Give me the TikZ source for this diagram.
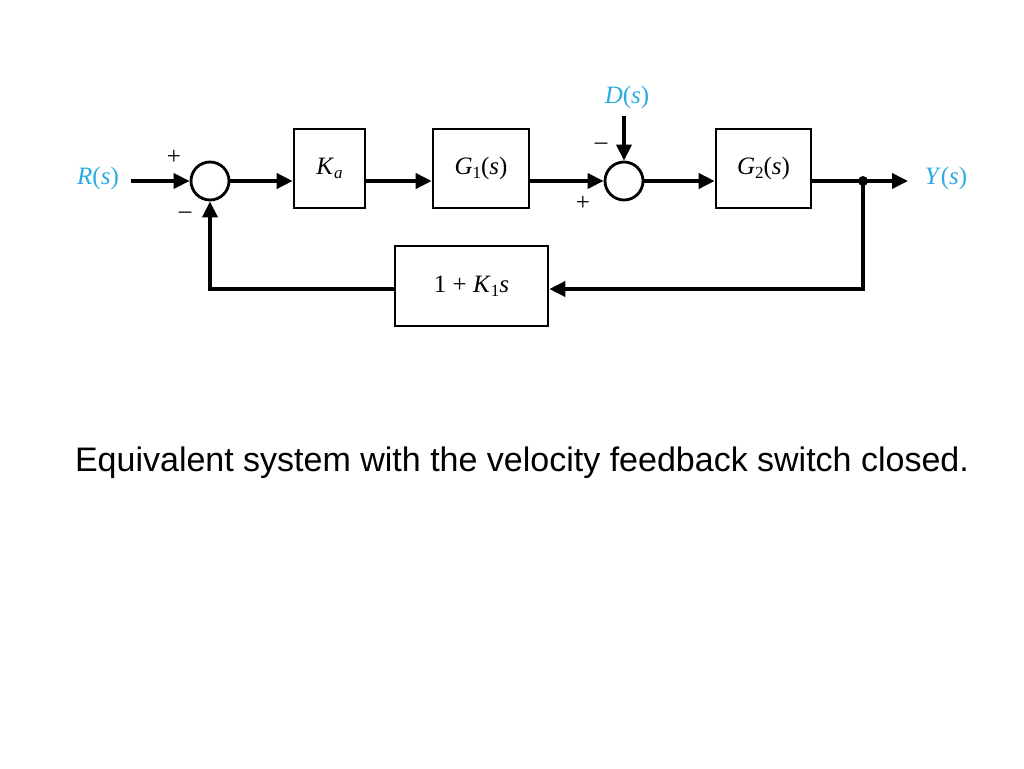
\documentclass[tikz,border=0pt]{standalone}
\usepackage{fontspec}
\setmainfont{Liberation Serif}
\newfontfamily\capfont{Liberation Sans}
\usetikzlibrary{arrows.meta}
\definecolor{sigblue}{RGB}{41,171,226}
\newcommand{\iv}[1]{\textit{#1}}
\newcommand{\sbs}[1]{\raisebox{-0.35ex}{\fontsize{17}{17}\selectfont #1}}
\begin{document}
\begin{tikzpicture}[x=1pt,y=-1pt,
  every node/.style={font=\fontsize{25}{30}\selectfont},
  blk/.style={draw,line width=2.6pt,inner sep=0pt},
  sumc/.style={draw,circle,line width=2.8pt,minimum size=38pt,inner sep=0pt},
  sig/.style={line width=3.6pt,-{Triangle[length=16pt,width=15pt]}},
  wire/.style={line width=3.6pt},
  lbl/.style={text=sigblue}]
\useasboundingbox (0,0) rectangle (1024,768);
\node[sumc] (s1) at (210,181) {};
\node[blk,minimum width=71pt,minimum height=79pt] (ka) at (329.5,168.5) {\iv{K}\sbs{\iv{a}}};
\node[blk,minimum width=96pt,minimum height=79pt] (g1) at (481,168.5) {\iv{G}\sbs{1}(\iv{s})};
\node[sumc] (s2) at (624,181) {};
\node[blk,minimum width=95pt,minimum height=79pt] (g2) at (763.5,168.5) {\iv{G}\sbs{2}(\iv{s})};
\node[blk,minimum width=153pt,minimum height=80pt] (h) at (471.5,286) {1 + \iv{K}\sbs{1}\iv{s}};
\node[lbl] (r) at (98,178) {\iv{R}(\iv{s})};
\node[lbl] (d) at (627,97) {\iv{D}(\iv{s})};
\node[lbl] (y) at (946,178) {\iv{Y}(\iv{s})};
\coordinate (rs) at (131,181);
\coordinate (ds) at (624,116);
\coordinate (jn) at (863,181);
\coordinate (ye) at (908,181);
\coordinate (jb) at (863,289);
\coordinate (fb) at (210,289);
\draw[sig] (rs) -- (s1.west);
\draw[sig] (s1.east) -- (s1.east -| ka.west);
\draw[sig] (ka.east |- s1) -- (g1.west |- s1);
\draw[sig] (g1.east |- s1) -- (s2.west);
\draw[sig] (ds) -- (s2.north);
\draw[sig] (s2.east) -- (g2.west |- s2);
\draw[wire] (g2.east |- s2) -- (jn);
\draw[sig] (jn) -- (ye);
\fill (jn) circle (5pt);
\draw[sig] (jn) -- (jb) -- (h.east |- jb);
\draw[sig] (h.west |- jb) -- (fb) -- (s1.south);
\node (p1) at (174,157) {+};
\node (m1) at (185,215) {\textendash};
\node (m2) at (601,146) {\textendash};
\node (p2) at (583,203) {+};
\node[font=\capfont\fontsize{34}{40}\selectfont] (cap) at (522,463) {Equivalent system with the velocity feedback switch closed.};
\end{tikzpicture}
\end{document}
